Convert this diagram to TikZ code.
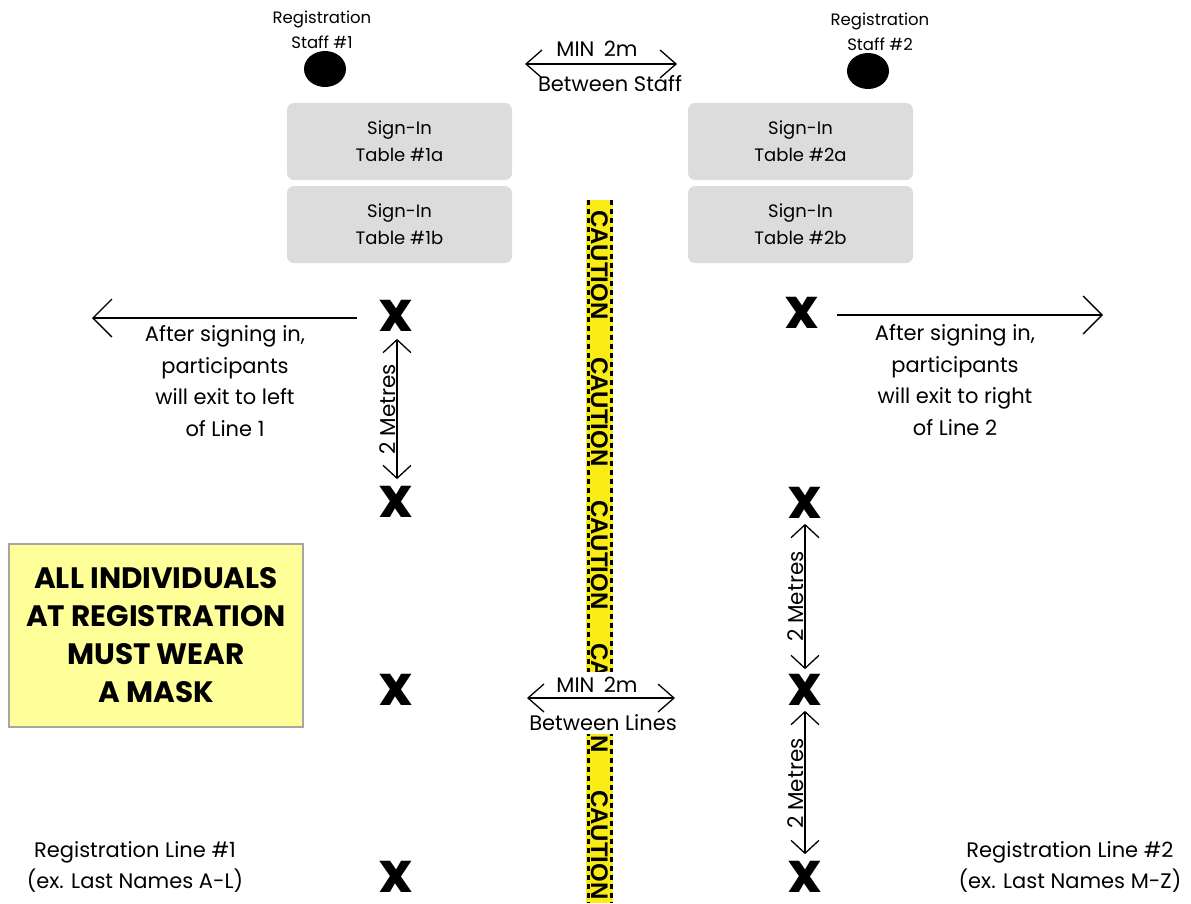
\documentclass[tikz,border=0pt]{standalone}
\usepackage{fontspec}
\setmainfont{Poppins}
\newfontfamily\tapefont{Liberation Sans}
\usepackage{tikz}
\usetikzlibrary{arrows.meta,positioning,shapes.geometric}
\definecolor{tablegray}{HTML}{DCDCDC}
\definecolor{maskyellow}{HTML}{FFFF99}
\definecolor{tapeyellow}{HTML}{F8EC14}
\tikzset{
	exittip/.tip={Straight Barb[length=19pt,width=38pt]},
	gaptip/.tip={Straight Barb[length=16pt,width=28pt]},
	metretip/.tip={Straight Barb[length=13pt,width=28pt]},
	staffnote/.style={align=center, font=\fontsize{16.5}{25}\selectfont, inner sep=0pt},
	staffdot/.style={ellipse, fill=black, minimum width=42pt, minimum height=36pt, inner sep=0pt},
	signtable/.style={fill=tablegray, rounded corners=7pt, minimum width=225pt, minimum height=77pt, align=center, font=\fontsize{18}{27}\selectfont},
	gapnote/.style={font=\fontsize{21}{21}\selectfont, inner sep=0pt},
	gapline/.style={line width=1.3pt, gaptip-gaptip},
	exitnote/.style={align=center, font=\fontsize{21}{31.5}\selectfont, inner sep=0pt},
	exitline/.style={line width=1.3pt, -exittip},
	spot/.style={font=\fontsize{56}{56}\bfseries\selectfont, inner sep=0pt},
	metreline/.style={line width=1.3pt, metretip-metretip},
	metrenote/.style={font=\fontsize{21.5}{21.5}\selectfont, inner sep=1pt, rotate=90, anchor=south},
	maskbox/.style={fill=maskyellow, draw=gray!70, line width=1.5pt, minimum width=294pt, minimum height=183pt, align=center, font=\fontsize{29.5}{38}\bfseries\selectfont},
	linenote/.style={align=center, font=\fontsize{21}{31}\selectfont, inner sep=0pt},
	tapeword/.style={font=\tapefont\fontsize{24}{24}\bfseries\selectfont, inner sep=0pt, rotate=-90, anchor=west},
	tapedash/.style={line width=3pt, dash pattern=on 5pt off 4pt},
}
\begin{document}
\begin{tikzpicture}[x=1pt, y=-1pt]
	\useasboundingbox (0,0) rectangle (1191,903);
	% caution tape
	\fill[tapeyellow] (586,200) rectangle (613,903);
	\begin{scope}
		\clip (586,200) rectangle (613,903);
		\foreach \y in {210,357,500,643,790}
			\node[tapeword] at (599.5,\y) {CAUTION};
		\draw[tapedash] (588,200) -- (588,903);
		\draw[tapedash] (611,200) -- (611,903);
	\end{scope}
	\fill[white] (580,672) rectangle (620,734);
	% staff
	\node[staffnote] (staffA) at (322,30) {Registration\\Staff \#1};
	\node[staffdot] (dotA) at (325,69) {};
	\node[staffnote] (staffB) at (880,32) {Registration\\Staff \#2};
	\node[staffdot] (dotB) at (868,71) {};
	% tables
	\node[signtable] (tabA) at (399.5,141.5) {Sign-In\\Table \#1a};
	\node[signtable] (tabB) at (399.5,224.5) {Sign-In\\Table \#1b};
	\node[signtable] (tabC) at (800.5,141.5) {Sign-In\\Table \#2a};
	\node[signtable] (tabD) at (800.5,224.5) {Sign-In\\Table \#2b};
	% distance between staff
	\coordinate (staffL) at (525,64);
	\coordinate (staffR) at (677,64);
	\draw[gapline] (staffL) -- (staffR);
	\node[gapnote] (minA) at (597,49) {MIN\hspace{0.45em}2m};
	\node[gapnote] (betweenA) at (610,84) {Between Staff};
	% distance between lines
	\coordinate (lineL) at (527,698);
	\coordinate (lineR) at (675,698);
	\draw[gapline] (lineL) -- (lineR);
	\node[gapnote] (minB) at (597,685) {MIN\hspace{0.45em}2m};
	\node[gapnote] (betweenB) at (603,723) {Between Lines};
	% standing spots
	\node[spot] (xA1) at (396,316) {x};
	\node[spot] (xA2) at (396,502) {x};
	\node[spot] (xA3) at (396,690) {x};
	\node[spot] (xA4) at (396,877) {x};
	\node[spot] (xB1) at (802,313) {x};
	\node[spot] (xB2) at (805,503) {x};
	\node[spot] (xB3) at (805,690) {x};
	\node[spot] (xB4) at (805,877) {x};
	% spacing
	\draw[metreline, shorten <=7pt, shorten >=7pt] ([xshift=1pt]xA1.south) -- node[metrenote] (metreA) {2 Metres} ([xshift=1pt]xA2.north);
	\draw[metreline, shorten <=5pt, shorten >=5pt] (xB2.south) -- node[metrenote] (metreB) {2 Metres} (xB3.north);
	\draw[metreline, shorten <=5pt, shorten >=7pt] (xB3.south) -- node[metrenote] (metreC) {2 Metres} (xB4.north);
	% exits
	\coordinate (exitAfrom) at (357,318);
	\coordinate (exitAto) at (92,318);
	\draw[exitline] (exitAfrom) -- (exitAto);
	\node[exitnote] (exitA) at (225,381) {After signing in,\\participants\\will exit to left\\of Line 1};
	\coordinate (exitBfrom) at (837,315);
	\coordinate (exitBto) at (1103,315);
	\draw[exitline] (exitBfrom) -- (exitBto);
	\node[exitnote] (exitB) at (955,380) {After signing in,\\participants\\will exit to right\\of Line 2};
	% mask notice
	\node[maskbox] (mask) at (156,635.5) {ALL INDIVIDUALS\\AT REGISTRATION\\MUST WEAR\\A MASK};
	% line labels
	\node[linenote] (lineA) at (135,867) {Registration Line \#1\\(ex. Last Names A-L)};
	\node[linenote] (lineB) at (1070,867) {Registration Line \#2\\(ex. Last Names M-Z)};
\end{tikzpicture}
\end{document}
